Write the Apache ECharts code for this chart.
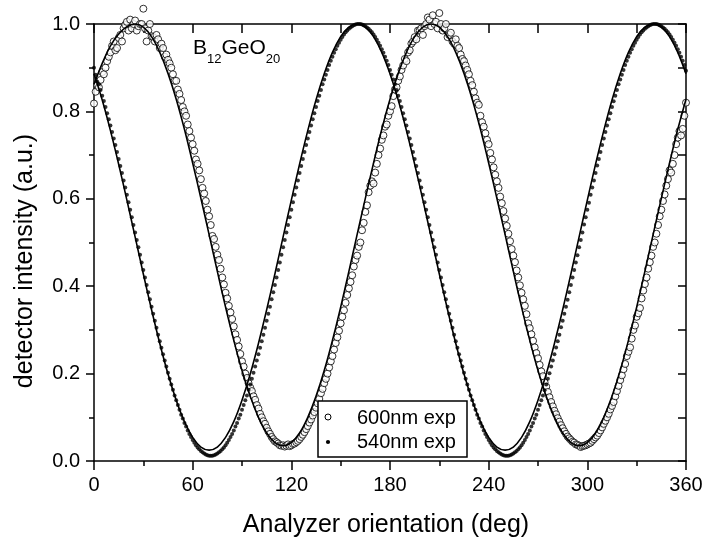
<!DOCTYPE html>
<html><head><meta charset="utf-8">
<script src="https://cdn.jsdelivr.net/npm/echarts@6/dist/echarts.min.js"></script>
<style>html,body{margin:0;padding:0;background:#fff}#c{width:706px;height:540px}</style>
</head><body><div id="c"></div>
<script>
// ---- data ----
const expAngles = [
0,1,2,3,4,5,6,7,8,9,10,11,12,13,14,15,16,17,18,19,
20,21,22,23,24,25,26,27,28,29,30,31,32,33,34,35,36,37,38,39,
40,41,42,43,44,45,46,47,48,49,50,51,52,53,54,55,56,57,58,59,
60,61,62,63,64,65,66,67,68,69,70,71,72,73,74,75,76,77,78,79,
80,81,82,83,84,85,86,87,88,89,90,91,92,93,94,95,96,97,98,99,
100,101,102,103,104,105,106,107,108,109,110,111,112,113,114,115,116,117,118,119,
120,121,122,123,124,125,126,127,128,129,130,131,132,133,134,135,136,137,138,139,
140,141,142,143,144,145,146,147,148,149,150,151,152,153,154,155,156,157,158,159,
160,161,162,163,164,165,166,167,168,169,170,171,172,173,174,175,176,177,178,179,
180,181,182,183,184,185,186,187,188,189,190,191,192,193,194,195,196,197,198,199,
200,201,202,203,204,205,206,207,208,209,210,211,212,213,214,215,216,217,218,219,
220,221,222,223,224,225,226,227,228,229,230,231,232,233,234,235,236,237,238,239,
240,241,242,243,244,245,246,247,248,249,250,251,252,253,254,255,256,257,258,259,
260,261,262,263,264,265,266,267,268,269,270,271,272,273,274,275,276,277,278,279,
280,281,282,283,284,285,286,287,288,289,290,291,292,293,294,295,296,297,298,299,
300,301,302,303,304,305,306,307,308,309,310,311,312,313,314,315,316,317,318,319,
320,321,322,323,324,325,326,327,328,329,330,331,332,333,334,335,336,337,338,339,
340,341,342,343,344,345,346,347,348,349,350,351,352,353,354,355,356,357,358,359,360];

const exp600 = [
0.818,0.845,0.86,0.855,0.872,0.89,0.885,0.9,0.915,0.925,0.935,0.95,0.96,0.94,0.945,0.968,0.975,0.96,0.99,0.998,1.005,0.985,1.01,0.99,1.0,1.008,0.985,0.995,
1.0,1.0,1.035,0.99,0.96,0.985,1.0,0.972,0.97,0.96,
0.975,0.965,0.945,0.955,0.945,0.925,0.93,0.918,0.91,0.9,
0.885,0.87,0.87,0.85,0.84,0.826,0.81,0.8,0.79,0.77,
0.755,0.74,0.725,0.71,0.69,0.68,0.665,0.645,0.625,0.612,
0.595,0.575,0.56,0.54,0.515,0.508,0.49,0.472,0.46,0.44,
0.42,0.404,0.385,0.372,0.355,0.34,0.325,0.308,0.29,0.277,
0.262,0.245,0.228,0.216,0.2,0.19,0.178,0.168,0.16,0.148,
0.14,0.128,0.12,0.108,0.1,0.091,0.085,0.076,0.068,0.062,
0.055,0.05,0.045,0.043,0.04,0.036,0.035,0.036,0.033,0.035,
0.038,0.034,0.036,0.039,0.04,0.043,0.046,0.05,0.055,0.06,
0.066,0.073,0.08,0.088,0.095,0.104,0.112,0.122,0.132,0.142,
0.155,0.165,0.178,0.188,0.2,0.214,0.228,0.24,0.255,0.27,
0.283,0.298,0.315,0.33,0.345,0.362,0.38,0.395,0.41,0.425,
0.445,0.46,0.47,0.49,0.5,0.528,0.545,0.57,0.585,0.615,
0.63,0.64,0.635,0.66,0.68,0.7,0.715,0.735,0.745,0.765,
0.77,0.79,0.8,0.812,0.835,0.85,0.855,0.87,0.88,0.895,
0.905,0.92,0.915,0.935,0.94,0.955,0.96,0.97,0.965,0.985,
0.985,0.99,0.975,0.995,1.0,1.015,1.01,0.995,1.02,1.0,
1.005,0.99,1.025,1.0,0.985,0.99,1.0,0.97,0.975,0.98,
0.96,0.955,0.965,0.95,0.945,0.93,0.92,0.915,0.905,0.895,
0.885,0.87,0.86,0.845,0.83,0.82,0.815,0.79,0.775,0.765,
0.75,0.735,0.725,0.705,0.69,0.672,0.655,0.64,0.625,0.605,
0.59,0.572,0.555,0.538,0.52,0.503,0.485,0.47,0.455,0.436,
0.42,0.402,0.385,0.37,0.355,0.336,0.315,0.304,0.29,0.275,
0.26,0.247,0.235,0.22,0.205,0.194,0.18,0.17,0.158,0.146,
0.135,0.125,0.115,0.107,0.098,0.09,0.082,0.075,0.068,0.062,
0.056,0.052,0.048,0.044,0.042,0.038,0.037,0.035,0.032,0.034,
0.035,0.036,0.038,0.04,0.042,0.046,0.05,0.054,0.058,0.064,
0.07,0.077,0.085,0.092,0.1,0.108,0.118,0.126,0.135,0.148,
0.16,0.172,0.185,0.196,0.21,0.222,0.24,0.25,0.26,0.28,
0.3,0.31,0.33,0.338,0.35,0.372,0.39,0.405,0.42,0.44,
0.455,0.47,0.49,0.5,0.52,0.54,0.56,0.575,0.595,0.61,
0.63,0.645,0.665,0.66,0.68,0.7,0.725,0.74,0.755,0.745,
0.76,0.79,0.82];

const exp540 = [
0.9,0.884,0.868,0.862,0.849,0.836,0.824,0.810,0.796,0.782,0.768,0.753,0.738,0.723,0.707,0.691,0.675,0.659,0.642,0.626,
0.609,0.592,0.575,0.558,0.540,0.523,0.506,0.489,0.472,0.454,0.437,0.420,0.403,0.386,0.370,0.353,0.337,0.321,0.305,0.289,
0.274,0.259,0.244,0.230,0.216,0.202,0.188,0.175,0.163,0.150,0.139,0.128,0.117,0.106,0.097,0.087,0.079,0.070,0.062,0.055,
0.048,0.042,0.036,0.031,0.027,0.023,0.020,0.017,0.015,0.013,0.012,0.012,
0.012,0.013,0.015,0.017,0.020,0.023,0.027,0.031,0.036,0.042,0.048,0.055,0.062,0.070,0.079,0.087,0.097,0.106,0.117,0.128,
0.139,0.150,0.163,0.175,0.188,0.202,0.216,0.230,0.244,0.259,0.274,0.289,0.305,0.321,0.337,0.353,0.370,0.386,0.403,0.420,
0.437,0.454,0.472,0.489,0.506,0.523,0.540,0.558,0.575,0.592,0.609,0.626,0.642,0.659,0.675,0.691,0.707,0.723,0.738,0.753,
0.768,0.782,0.796,0.810,0.824,0.836,0.849,0.862,0.873,0.884,0.895,0.906,0.916,0.925,0.934,0.942,0.950,0.957,0.964,0.970,
0.976,0.981,0.985,0.989,0.992,0.995,0.997,0.999,1.000,1.000,
1.000,0.999,0.997,0.995,0.992,0.989,0.985,0.981,0.976,0.970,0.964,0.957,0.950,0.942,0.934,0.925,0.916,0.906,
0.895,0.884,0.873,0.862,0.849,0.836,0.824,0.810,0.796,0.782,0.768,0.753,0.738,0.723,0.707,0.691,0.675,0.659,0.642,0.626,
0.609,0.592,0.575,0.558,0.540,0.523,0.506,0.489,0.472,0.454,0.437,0.420,0.403,0.386,0.370,0.353,0.337,0.321,0.305,0.289,
0.274,0.259,0.244,0.230,0.216,0.202,0.188,0.175,0.163,0.150,0.139,0.128,0.117,0.106,0.097,0.087,0.079,0.070,0.062,0.055,
0.048,0.042,0.036,0.031,0.027,0.023,0.020,0.017,0.015,0.013,0.012,0.012,
0.012,0.013,0.015,0.017,0.020,0.023,0.027,0.031,0.036,0.042,0.048,0.055,0.062,0.070,0.079,0.087,0.097,0.106,0.117,0.128,
0.139,0.150,0.162,0.175,0.188,0.201,0.216,0.230,0.244,0.260,0.274,0.289,0.306,0.321,0.337,0.353,0.369,0.386,0.403,0.420,
0.437,0.454,0.471,0.489,0.506,0.523,0.541,0.558,0.575,0.591,0.609,0.626,0.642,0.659,0.676,0.691,0.707,0.723,0.738,0.753,
0.768,0.782,0.796,0.810,0.823,0.836,0.849,0.862,0.873,0.884,0.895,0.906,0.916,0.925,0.934,0.942,0.950,0.957,0.964,0.970,
0.976,0.981,0.985,0.989,0.992,0.995,0.997,0.999,1.000,1.000,
1.000,0.999,0.997,0.995,0.992,0.989,0.985,0.981,0.976,0.970,0.964,0.957,0.950,0.942,0.934,0.925,0.916,0.906,0.893];

const fitAngles = [0,5,10,15,20,25,30,35,40,45,50,55,60,65,70,75,80,85,90,95,100,105,110,115,120,125,130,135,140,145,150,155,160,165,170,175,180,185,190,195,200,205,210,215,220,225,230,235,240,245,250,255,260,265,270,275,280,285,290,295,300,305,310,315,320,325,330,335,340,345,350,355,360];

const fit600 = [0.862,0.91,0.95,0.977,0.994,1.0,0.993,0.971,0.935,0.887,0.828,0.759,0.682,0.601,0.518,0.434,0.352,0.276,0.207,0.148,0.100,0.064,0.042,0.035,0.042,0.064,0.100,0.148,0.207,0.276,0.352,0.434,0.518,0.601,0.682,0.759,0.828,0.887,0.935,0.971,0.993,1.0,0.993,0.971,0.935,0.887,0.828,0.759,0.682,0.601,0.518,0.434,0.352,0.276,0.207,0.148,0.100,0.064,0.042,0.035,0.042,0.064,0.100,0.148,0.207,0.276,0.352,0.434,0.518,0.601,0.682,0.759,0.828];

const fit540 = [0.886,0.826,0.756,0.679,0.597,0.513,0.428,0.346,0.269,0.199,0.139,0.090,0.054,0.032,0.025,0.032,0.054,0.090,0.139,0.199,0.269,0.346,0.428,0.513,0.597,0.679,0.756,0.826,0.886,0.935,0.971,0.993,1.0,0.993,0.971,0.935,0.886,0.826,0.756,0.679,0.597,0.513,0.428,0.346,0.269,0.199,0.139,0.090,0.054,0.032,0.025,0.032,0.054,0.090,0.139,0.199,0.269,0.346,0.428,0.513,0.597,0.679,0.756,0.826,0.886,0.935,0.971,0.993,1.0,0.993,0.971,0.935,0.886];

const xTicks = {min:0, max:360, step:60};
const yTicks = {min:0, max:1.0, step:0.2};
const seriesNames = ['600nm exp','540nm exp'];

// ---- chart ----
const FONT = '"Liberation Sans", Arial, Helvetica, sans-serif';
const pair = (xs, ys) => xs.map((x, i) => [x, ys[i]]);
const black = '#000';
const chart = echarts.init(document.getElementById('c'), null, {renderer:'canvas'});

const option = {
  animation:false,
  backgroundColor:'#fff',
  grid:{left:94, right:20, top:24, bottom:79, containLabel:false, outerBoundsMode:'none'},
  xAxis:[
    {type:'value', min:xTicks.min, max:xTicks.max, interval:xTicks.step, position:'bottom',
     axisLine:{show:true, onZero:false, lineStyle:{color:black, width:1.5}},
     axisTick:{show:true, inside:false, length:9, lineStyle:{color:black, width:1.5}},
     minorTick:{show:true, splitNumber:2, length:5, lineStyle:{color:black, width:1.5}},
     splitLine:{show:false},
     axisLabel:{color:black, fontSize:20, fontFamily:FONT, margin:14},
     name:'Analyzer orientation (deg)', nameLocation:'middle', nameGap:52,
     nameTextStyle:{color:black, fontSize:25, fontFamily:FONT, padding:[0,8,0,0]}},
    {type:'value', min:xTicks.min, max:xTicks.max, interval:xTicks.step/2, position:'top',
     axisLine:{show:true, onZero:false, lineStyle:{color:black, width:1.5}},
     axisTick:{show:true, inside:true, length:9, lineStyle:{color:black, width:1.5}},
     splitLine:{show:false}, axisLabel:{show:false}}
  ],
  yAxis:[
    {type:'value', min:yTicks.min, max:yTicks.max, interval:yTicks.step, position:'left',
     axisLine:{show:true, onZero:false, lineStyle:{color:black, width:1.5}},
     axisTick:{show:true, inside:false, length:8, lineStyle:{color:black, width:1.5}},
     minorTick:{show:true, splitNumber:2, length:5, lineStyle:{color:black, width:1.5}},
     splitLine:{show:false},
     axisLabel:{color:black, fontSize:20, fontFamily:FONT, margin:14, formatter:v => v.toFixed(1)},
     name:'detector intensity (a.u.)', nameLocation:'middle', nameGap:56,
     nameTextStyle:{color:black, fontSize:25, fontFamily:FONT, padding:[0,37,0,0]}},
    {type:'value', min:yTicks.min, max:yTicks.max, interval:yTicks.step/2, position:'right',
     axisLine:{show:true, onZero:false, lineStyle:{color:black, width:1.5}},
     axisTick:{show:true, inside:true, length:8, lineStyle:{color:black, width:1.5}},
     splitLine:{show:false}, axisLabel:{show:false}}
  ],
  graphic:[
    {type:'rect', z:10, shape:{x:318, y:401, width:149, height:56},
     style:{fill:'#fff', stroke:black, lineWidth:1.5}},
    {type:'circle', z:11, shape:{cx:328, cy:417, r:3}, style:{fill:'#fff', stroke:black, lineWidth:1}},
    {type:'circle', z:11, shape:{cx:328, cy:442, r:2.1}, style:{fill:black}},
    {type:'text', z:11, x:357, y:418, style:{text:seriesNames[0], fontSize:20, fontFamily:FONT, fill:black, verticalAlign:'middle'}},
    {type:'text', z:11, x:357, y:442, style:{text:seriesNames[1], fontSize:20, fontFamily:FONT, fill:black, verticalAlign:'middle'}},
    {type:'text', left:193, top:38, z:3,
     style:{text:'{m|B}{s|12}{m|GeO}{s|20}',
       rich:{m:{fontSize:21, fontFamily:FONT, fill:black},
             s:{fontSize:13, fontFamily:FONT, fill:black, padding:[22,0,0,0]}}}}
  ],
  series:[
    {name:seriesNames[0], type:'scatter', data:pair(expAngles, exp600), symbol:'circle', symbolSize:7,
     clip:false, z:2, itemStyle:{color:'#fff', borderColor:black, borderWidth:1}},
    {name:seriesNames[1], type:'scatter', data:pair(expAngles, exp540), symbol:'circle', symbolSize:4,
     clip:false, z:3, itemStyle:{color:black}},
    {name:'fit600', type:'line', data:pair(fitAngles, fit600), smooth:0.3, showSymbol:false, symbol:'none',
     z:4, lineStyle:{color:black, width:1.6}},
    {name:'fit540', type:'line', data:pair(fitAngles, fit540), smooth:0.3, showSymbol:false, symbol:'none',
     z:4, lineStyle:{color:black, width:1.6}}
  ]
};
chart.setOption(option);
</script></body></html>
